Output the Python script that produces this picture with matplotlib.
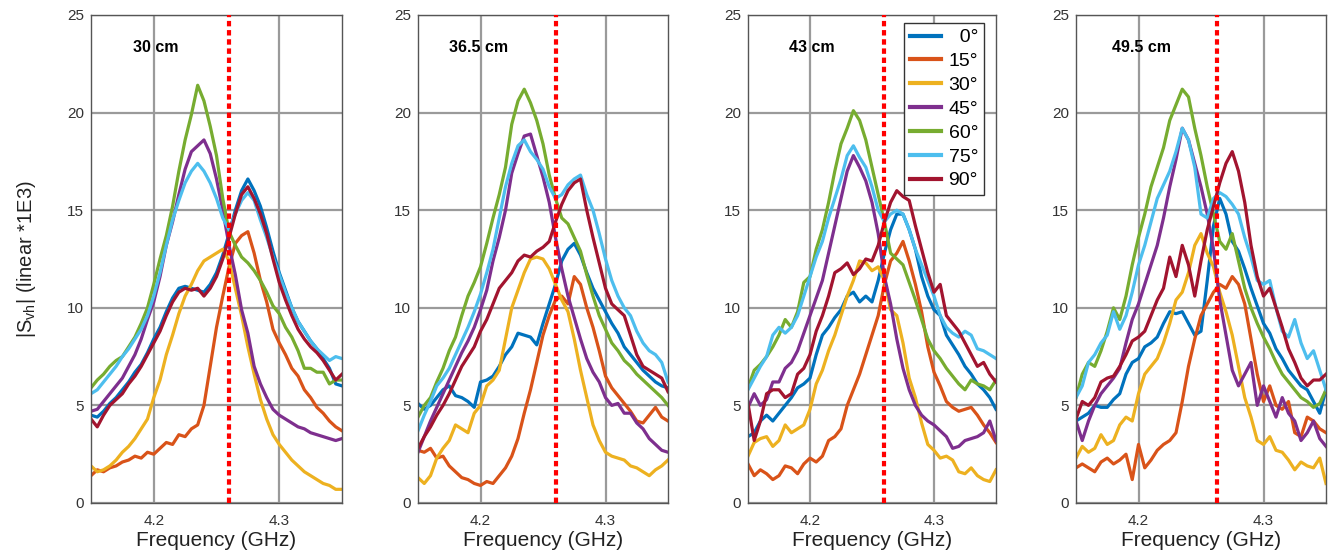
import matplotlib

matplotlib.use("Agg")
import matplotlib.pyplot as plt
import numpy as np

plt.rcParams["font.family"] = ["Liberation Sans", "DejaVu Sans"]
plt.rcParams["mathtext.fontset"] = "custom"
plt.rcParams["mathtext.rm"] = "Liberation Sans"
plt.rcParams["mathtext.it"] = "Liberation Sans:italic"

# ---- data (|S_vh| x1E3, 5 MHz steps 4.15..4.35 GHz) ----
FREQ = np.linspace(4.15, 4.35, 41)
ANGLES = ["0°", "15°", "30°", "45°", "60°", "75°", "90°"]
DISTANCES = ["30 cm", "36.5 cm", "43 cm", "49.5 cm"]
MARKER_GHZ = [4.260, 4.260, 4.260, 4.2625]

S_30CM = [
    [4.5, 4.4, 4.7, 5.1, 5.4, 5.8, 6.2, 6.7, 7.1, 7.7, 8.4, 9.0, 9.8, 10.5, 11.0, 11.1, 11.0, 10.9, 10.8, 11.2,
     11.8, 12.7, 13.8, 15.0, 16.0, 16.6, 16.0, 15.2, 14.1, 12.9, 11.8, 10.9, 10.0, 9.3, 8.8, 8.3, 7.9, 7.4, 6.9, 6.1, 6.0],
    [1.4, 1.7, 1.6, 1.8, 1.9, 2.1, 2.2, 2.4, 2.3, 2.6, 2.5, 2.8, 3.1, 3.0, 3.5, 3.4, 3.8, 4.0, 5.0, 7.0,
     9.0, 10.6, 12.1, 13.3, 13.7, 13.9, 12.8, 11.4, 10.3, 8.9, 8.2, 7.6, 6.9, 6.5, 5.8, 5.4, 4.9, 4.6, 4.2, 3.9, 3.7],
    [1.9, 1.6, 1.7, 1.9, 2.2, 2.6, 2.9, 3.3, 3.8, 4.3, 5.4, 6.3, 7.6, 8.6, 9.7, 10.6, 11.2, 11.9, 12.4, 12.6,
     12.8, 13.0, 12.4, 11.0, 9.6, 8.0, 6.6, 5.3, 4.3, 3.5, 3.0, 2.6, 2.2, 1.9, 1.6, 1.4, 1.2, 1.0, 0.9, 0.7, 0.7],
    [4.7, 4.8, 5.2, 5.6, 6.0, 6.4, 7.0, 7.6, 8.4, 9.4, 10.3, 11.6, 13.2, 14.4, 15.8, 17.1, 18.0, 18.3, 18.6, 17.9,
     16.6, 15.0, 13.2, 11.7, 9.9, 8.7, 7.0, 6.1, 5.4, 4.8, 4.5, 4.3, 4.1, 3.9, 3.8, 3.6, 3.5, 3.4, 3.3, 3.2, 3.3],
    [5.9, 6.3, 6.6, 7.0, 7.3, 7.5, 8.0, 8.5, 9.2, 10.0, 11.2, 12.5, 13.7, 15.2, 17.0, 18.6, 19.9, 21.4, 20.6, 19.3,
     17.8, 15.6, 13.9, 13.2, 12.6, 12.3, 11.9, 11.4, 10.8, 10.1, 9.7, 9.0, 8.5, 7.8, 6.9, 6.9, 6.7, 6.7, 6.1, 6.3, 6.3],
    [5.6, 5.8, 6.2, 6.6, 7.0, 7.5, 7.9, 8.4, 8.9, 9.6, 10.6, 11.8, 13.2, 14.5, 15.5, 16.4, 17.0, 17.4, 17.0, 16.4,
     15.6, 14.6, 14.0, 14.8, 15.5, 15.9, 15.5, 14.5, 13.6, 12.6, 11.7, 10.8, 10.0, 9.3, 8.8, 8.3, 7.9, 7.6, 7.3, 7.5, 7.4],
    [4.3, 3.9, 4.5, 5.0, 5.3, 5.6, 6.1, 6.5, 7.0, 7.6, 8.2, 8.8, 9.6, 10.3, 10.8, 11.0, 10.9, 11.0, 10.6, 11.0,
     11.6, 12.5, 13.6, 14.8, 15.8, 16.2, 15.6, 14.8, 13.8, 12.5, 11.3, 10.4, 9.6, 8.9, 8.4, 8.0, 7.7, 7.3, 6.8, 6.3, 6.6],
]

S_365CM = [
    [5.1, 4.8, 5.0, 5.4, 5.8, 6.0, 5.5, 5.4, 5.2, 4.9, 6.2, 6.3, 6.5, 7.0, 7.6, 8.0, 8.7, 8.6, 8.5, 8.1,
     9.2, 10.2, 11.2, 12.4, 13.0, 13.3, 12.7, 11.8, 11.0, 10.4, 9.8, 9.2, 8.7, 8.0, 7.6, 7.2, 6.8, 6.5, 6.2, 6.0, 5.9],
    [2.7, 2.6, 2.8, 2.3, 2.4, 1.9, 1.6, 1.3, 1.2, 1.0, 0.9, 1.1, 1.0, 1.4, 1.8, 2.4, 3.3, 4.6, 5.8, 7.2,
     8.6, 9.6, 10.4, 10.6, 10.2, 11.6, 11.2, 10.0, 9.0, 7.8, 6.5, 5.9, 5.5, 5.1, 4.7, 4.2, 4.1, 4.5, 4.9, 4.4, 4.2],
    [1.3, 1.0, 1.4, 2.3, 2.8, 3.2, 4.0, 3.8, 3.6, 4.6, 5.0, 6.0, 6.3, 6.8, 8.4, 10.0, 10.9, 11.8, 12.5, 12.6,
     12.5, 12.0, 11.2, 10.4, 9.8, 8.4, 6.8, 5.4, 4.0, 3.2, 2.6, 2.4, 2.3, 2.2, 1.9, 1.8, 1.6, 1.4, 1.7, 1.9, 2.2],
    [2.6, 3.4, 4.2, 4.9, 5.6, 6.3, 7.0, 7.7, 8.3, 9.0, 9.9, 10.9, 12.4, 13.6, 15.0, 16.9, 17.9, 18.8, 18.9, 17.8,
     16.7, 15.4, 13.6, 12.0, 10.6, 9.5, 8.4, 7.4, 6.7, 6.2, 5.4, 5.0, 5.1, 4.6, 4.6, 4.1, 3.8, 3.3, 3.0, 2.7, 2.6],
    [4.4, 5.0, 5.4, 6.2, 6.9, 7.8, 8.5, 9.6, 10.6, 11.3, 12.1, 13.3, 14.6, 15.8, 17.2, 19.4, 20.6, 21.2, 20.5, 19.6,
     18.4, 16.8, 15.6, 14.6, 14.3, 13.6, 12.9, 11.7, 10.6, 9.6, 8.9, 8.2, 7.8, 7.3, 7.0, 6.6, 6.3, 6.0, 5.7, 5.4, 5.0],
    [3.7, 4.5, 5.2, 6.0, 6.4, 6.9, 7.6, 8.3, 9.0, 9.8, 10.7, 11.8, 13.0, 14.6, 16.2, 17.4, 18.3, 18.6, 18.0, 17.6,
     17.1, 16.2, 15.6, 15.8, 16.3, 16.6, 16.8, 15.8, 15.0, 13.8, 12.5, 11.4, 10.6, 10.0, 9.6, 8.8, 8.2, 7.8, 7.6, 7.2, 6.2],
    [2.8, 3.4, 3.9, 4.5, 5.0, 5.6, 6.3, 7.0, 7.5, 8.0, 8.8, 9.4, 10.2, 11.0, 11.4, 11.8, 12.4, 12.7, 12.6, 12.9,
     13.1, 13.4, 14.4, 15.3, 16.0, 16.4, 16.6, 15.0, 13.6, 12.3, 11.0, 10.2, 9.9, 9.6, 8.6, 7.6, 7.0, 6.8, 6.6, 6.4, 5.7],
]

S_43CM = [
    [3.4, 3.6, 4.2, 4.5, 4.2, 4.6, 5.0, 5.4, 5.9, 6.1, 6.4, 7.6, 8.6, 9.0, 9.5, 9.9, 10.6, 10.8, 10.3, 10.6,
     10.3, 11.4, 12.8, 14.0, 14.8, 14.8, 14.0, 13.0, 11.6, 10.6, 9.9, 9.6, 8.6, 8.1, 7.6, 7.0, 6.6, 6.1, 5.8, 5.4, 4.8],
    [2.0, 1.4, 1.7, 1.5, 1.2, 1.4, 1.9, 1.8, 1.5, 2.0, 2.3, 2.1, 2.4, 3.2, 3.4, 3.8, 5.0, 5.8, 6.6, 7.6,
     8.6, 9.6, 11.2, 12.4, 12.8, 13.4, 12.4, 11.2, 9.8, 8.0, 6.7, 6.0, 5.2, 4.9, 4.7, 4.8, 4.9, 4.5, 4.0, 3.6, 3.1],
    [2.4, 3.1, 3.3, 3.4, 2.9, 3.2, 4.0, 3.6, 3.8, 4.0, 4.8, 6.1, 6.8, 7.8, 8.6, 9.6, 10.6, 11.4, 12.4, 12.3,
     11.9, 12.1, 11.4, 9.9, 9.6, 8.2, 6.4, 5.4, 4.1, 3.0, 2.7, 2.3, 2.4, 2.2, 1.6, 1.5, 1.8, 1.4, 1.2, 1.1, 1.7],
    [4.9, 5.6, 5.0, 5.3, 6.2, 6.2, 6.9, 7.2, 7.8, 8.7, 9.6, 10.5, 11.4, 12.8, 14.2, 15.6, 17.0, 17.8, 17.2, 16.5,
     15.4, 13.8, 11.6, 10.2, 8.4, 6.9, 5.8, 5.0, 4.5, 4.2, 4.0, 3.7, 3.4, 2.8, 2.9, 3.2, 3.3, 3.4, 3.6, 4.2, 3.2],
    [5.9, 6.8, 7.1, 7.5, 8.0, 8.6, 9.4, 9.0, 9.8, 11.3, 11.6, 13.0, 14.0, 15.4, 17.0, 18.4, 19.2, 20.1, 19.6, 18.6,
     17.2, 15.8, 14.4, 12.8, 12.5, 12.2, 11.3, 10.4, 9.4, 8.4, 7.8, 7.4, 6.9, 6.5, 6.1, 5.8, 6.3, 6.1, 6.0, 5.8, 6.3],
    [5.8, 6.4, 7.0, 7.5, 8.6, 9.0, 8.7, 9.0, 9.6, 10.6, 11.6, 12.6, 13.4, 14.6, 15.6, 16.6, 17.8, 18.3, 17.7, 17.2,
     16.2, 15.0, 14.4, 14.8, 15.0, 14.8, 14.0, 13.0, 12.2, 11.4, 10.6, 9.6, 9.0, 8.7, 8.5, 8.8, 8.6, 7.9, 7.8, 7.6, 7.4],
    [5.1, 3.2, 4.2, 5.6, 5.8, 5.8, 5.4, 5.6, 6.6, 6.9, 7.6, 8.8, 9.6, 10.6, 11.8, 12.0, 12.3, 11.7, 12.0, 12.5,
     12.4, 13.2, 14.4, 15.4, 16.0, 15.7, 15.5, 14.2, 13.0, 11.8, 10.8, 11.2, 9.6, 9.2, 8.8, 8.2, 7.6, 7.0, 7.2, 6.6, 6.2],
]

S_495CM = [
    [4.2, 4.4, 4.6, 5.0, 4.9, 4.9, 5.3, 5.6, 6.6, 7.2, 7.4, 8.0, 8.2, 8.5, 9.2, 9.8, 9.7, 9.8, 9.2, 8.6,
     8.8, 11.4, 14.2, 15.6, 14.8, 13.4, 12.9, 12.0, 11.0, 10.1, 9.2, 8.7, 7.9, 7.4, 6.8, 6.4, 6.0, 5.8, 5.2, 4.6, 5.8],
    [1.8, 2.0, 1.8, 1.6, 2.1, 2.3, 2.0, 2.2, 2.5, 1.2, 3.0, 1.8, 2.2, 2.7, 3.0, 3.2, 3.6, 5.2, 7.0, 8.4,
     9.6, 10.2, 10.8, 11.2, 11.0, 11.6, 11.2, 10.2, 8.4, 6.6, 5.2, 6.0, 5.0, 4.8, 5.2, 3.6, 3.4, 4.4, 4.2, 3.8, 3.6],
    [2.3, 2.9, 2.6, 2.8, 3.5, 3.0, 3.2, 4.0, 4.4, 4.2, 5.6, 6.6, 7.0, 7.4, 8.2, 9.2, 10.4, 10.8, 11.8, 13.2,
     13.8, 12.8, 12.1, 10.8, 9.8, 8.6, 7.0, 5.4, 4.4, 3.2, 3.0, 3.4, 2.7, 2.6, 2.2, 1.7, 2.1, 1.9, 1.8, 2.3, 1.0],
    [4.2, 3.2, 4.2, 5.0, 5.6, 6.0, 6.4, 6.9, 8.2, 9.4, 10.2, 11.2, 12.2, 13.2, 14.6, 16.2, 17.6, 19.2, 18.6, 17.4,
     16.2, 14.8, 13.0, 10.4, 8.6, 6.8, 6.0, 6.6, 7.2, 5.0, 6.0, 5.2, 4.4, 5.4, 4.6, 4.2, 3.2, 3.6, 4.2, 3.3, 2.9],
    [5.4, 6.6, 7.2, 7.0, 7.8, 8.8, 10.0, 9.4, 10.6, 12.2, 13.6, 14.8, 16.2, 17.2, 18.2, 19.6, 20.4, 21.2, 20.8, 19.2,
     17.8, 16.2, 14.8, 13.4, 13.0, 13.8, 12.4, 11.0, 10.0, 9.2, 8.5, 7.9, 7.2, 6.6, 6.2, 5.8, 5.4, 5.2, 4.9, 5.1, 5.8],
    [5.4, 6.0, 7.2, 7.6, 8.2, 8.6, 9.8, 8.9, 9.6, 10.8, 12.2, 13.2, 14.4, 15.6, 16.3, 17.0, 18.0, 19.2, 18.6, 17.2,
     14.8, 14.6, 15.6, 15.9, 15.7, 15.3, 14.8, 13.6, 12.6, 11.4, 11.2, 11.4, 10.0, 8.8, 8.5, 9.4, 8.2, 7.4, 7.8, 6.8, 5.8],
    [4.3, 5.2, 5.0, 5.4, 6.2, 6.4, 6.5, 7.0, 7.6, 8.3, 8.5, 8.8, 9.6, 10.4, 11.0, 12.6, 11.6, 13.2, 12.2, 10.6,
     12.4, 14.0, 15.2, 16.4, 17.4, 18.0, 17.0, 15.4, 13.2, 11.6, 10.6, 11.0, 10.0, 9.0, 7.9, 7.2, 6.4, 6.0, 6.3, 6.3, 6.6],
]

PANELS = [S_30CM, S_365CM, S_43CM, S_495CM]

# MATLAB default line colours
COLORS = ["#0072BD", "#D95319", "#EDB120", "#7E2F8E", "#77AC30", "#4DBEEE", "#A2142F"]

W, H = 1338, 552
fig = plt.figure(figsize=(W / 100, H / 100), dpi=100)

# axes boxes in pixels: (left, right), top/bottom shared
boxes = [(91, 342), (418, 668), (748, 996), (1076, 1326)]
top_px, bot_px = 15, 503
label_x = [4.1836, 4.1748, 4.1828, 4.1786]

for i, (data, (l, r)) in enumerate(zip(PANELS, boxes)):
    ax = fig.add_axes([l / W, 1 - bot_px / H, (r - l) / W, (bot_px - top_px) / H])
    for vals, c, lab in zip(data, COLORS, ANGLES):
        # pad with two spaces (= one digit) so the legend text looks right-aligned
        ax.plot(FREQ, vals, color=c, lw=2.3, label=lab.rjust(4) if len(lab) == 2 else lab,
                solid_joinstyle="round")
    ax.axvline(MARKER_GHZ[i], color="#ff0000", lw=3.0, ls=(0, (1.3, 0.9)),
               dash_capstyle="butt", zorder=5)

    ax.set_xlim(4.15, 4.35)
    ax.set_ylim(0, 25)
    ax.set_xticks([4.2, 4.3])
    ax.set_yticks([0, 5, 10, 15, 20, 25])
    ax.set_xticklabels(["4.2", "4.3"])
    ax.grid(True, color="#9a9a9a", lw=1.6)
    ax.set_axisbelow(True)
    ax.tick_params(length=0, labelsize=11, colors="#333333", pad=5)
    ax.tick_params(axis="x", pad=8)
    for sp in ax.spines.values():
        sp.set_color("#555555")
        sp.set_linewidth(1.0)
    ax.set_xlabel("Frequency (GHz)", fontsize=15, color="#222222", labelpad=2)
    ax.text(label_x[i], 23.35, DISTANCES[i], fontsize=11.5, fontweight="bold",
            va="center", ha="left", zorder=6)

    if i == 0:
        ax.set_ylabel(r"|S$_{\mathrm{vh}}$| (linear *1E3)", fontsize=14.5, color="#222222")
        ax.yaxis.set_label_coords(-0.212, 0.5)
    if i == 2:
        leg = ax.legend(loc="upper right", bbox_to_anchor=(0.9516, 0.9836), borderaxespad=0,
                        fontsize=14, handlelength=1.6, handletextpad=0.4, labelspacing=0.32,
                        borderpad=0.3, fancybox=False, framealpha=1, edgecolor="#333333")
        leg.get_frame().set_linewidth(1.0)
        for line in leg.get_lines():
            line.set_linewidth(3)

fig.savefig("out.png", dpi=100)
